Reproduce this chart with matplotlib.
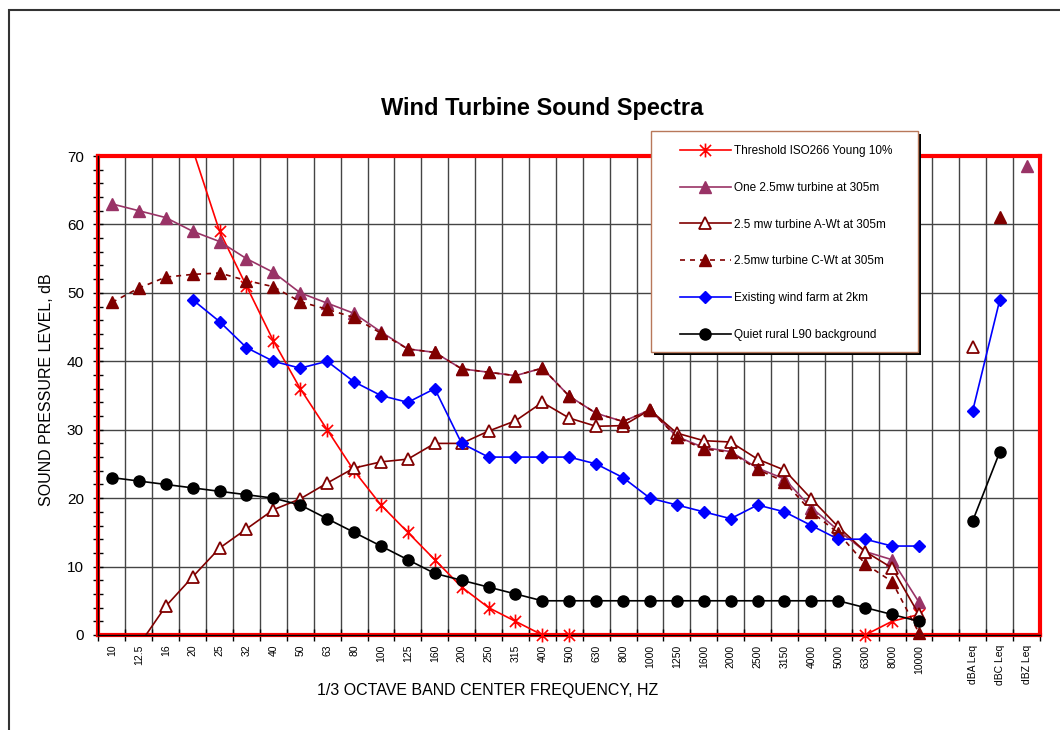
import matplotlib
matplotlib.use('agg')
import numpy as np
import matplotlib.pyplot as plt
from matplotlib.lines import Line2D
from matplotlib.patches import Rectangle
from matplotlib.path import Path

plt.rcParams['font.family'] = ['Liberation Sans', 'DejaVu Sans']

# category labels: 1/3 octave bands, one blank slot, then overall levels
freq_labels = ['10', '12.5', '16', '20', '25', '32', '40', '50', '63', '80', '100', '125',
               '160', '200', '250', '315', '400', '500', '630', '800', '1000', '1250',
               '1600', '2000', '2500', '3150', '4000', '5000', '6300', '8000', '10000']
leq_labels = ['dBA Leq', 'dBC Leq', 'dBZ Leq']

nan = np.nan
# spectra, one value per band (nan = no point)
threshold = [nan, nan, nan, 71, 59, 51, 43, 36, 30, 24, 19, 15, 11, 7, 4, 2, 0, 0,
             -3, -4, -4, -4, -5, -5, -5, -4, -3, -2, 0, 2, 3]
one_turbine = [63, 62, 61, 59, 57.5, 55, 53, 50, 48.5, 47, 44.3, 41.8, 41.3, 38.9, 38.4, 37.9,
               39, 34.9, 32.4, 31.2, 32.9, 29, 27.4, 26.8, 24.4, 22.8, 18.6, 15.3, 12.2, 11, 4.8]
a_wt = [-8, -1.5, 4.2, 8.5, 12.7, 15.5, 18.3, 19.9, 22.2, 24.4, 25.3, 25.7, 28, 28, 29.8,
        31.3, 34, 31.7, 30.5, 30.6, 32.9, 29.5, 28.4, 28.2, 25.7, 24.1, 19.9, 15.8, 12.2, 9.8, 3]
c_wt = [48.6, 50.7, 52.3, 52.7, 52.9, 51.8, 50.9, 48.7, 47.6, 46.4, 44.1, 41.8, 41.3, 38.9, 38.4,
        37.9, 39, 34.9, 32.4, 31.2, 32.9, 28.9, 27.2, 26.7, 24.2, 22.4, 18, 14.9, 10.4, 7.8, 0.3]
wind_farm = [nan, nan, nan, 49, 45.8, 42, 40, 39, 40, 37, 35, 34, 36, 28, 26, 26, 26, 26,
             25, 23, 20, 19, 18, 17, 19, 18, 16, 14, 14, 13, 13]
rural_l90 = [23, 22.5, 22, 21.5, 21, 20.5, 20, 19, 17, 15, 13, 11, 9, 8, 7, 6, 5, 5,
             5, 5, 5, 5, 5, 5, 5, 5, 5, 5, 4, 3, 2]

# overall levels: dBA, dBC, dBZ
threshold_leq = [nan, nan, nan]
one_turbine_leq = [nan, nan, 68.5]
a_wt_leq = [42.1, nan, nan]
c_wt_leq = [nan, 61.1, nan]
wind_farm_leq = [32.8, 48.9, nan]
rural_l90_leq = [16.7, 26.7, nan]

labels = ['Threshold ISO266 Young 10%', 'One 2.5mw turbine at 305m',
          '2.5 mw turbine A-Wt at 305m', '2.5mw turbine C-Wt at 305m',
          'Existing wind farm at 2km', 'Quiet rural L90 background']

cats = freq_labels + [''] + leq_labels
x = np.arange(len(cats))

def full(spec, leq):
    return np.array(spec + [nan] + leq, dtype=float)

# excel style star: an X with a vertical bar through it
star = Path([(-1, -1), (1, 1), (-1, 1), (1, -1), (0, -1.25), (0, 1.25)],
            [Path.MOVETO, Path.LINETO, Path.MOVETO, Path.LINETO, Path.MOVETO, Path.LINETO])

series = [
    (full(threshold, threshold_leq), dict(color='#ff0000', marker=star, ms=10, mew=1.2, mfc='#ff0000', ls='-')),
    (full(one_turbine, one_turbine_leq), dict(color='#993366', marker='^', ms=8.5, mew=1, mfc='#993366', ls='-')),
    (full(a_wt, a_wt_leq), dict(color='#800000', marker='^', ms=8.5, mew=1.3, mfc='white', ls='-')),
    (full(c_wt, c_wt_leq), dict(color='#800000', marker='^', ms=8.5, mew=1, mfc='#800000', ls=(0, (3, 3)))),
    (full(wind_farm, wind_farm_leq), dict(color='#0000ff', marker='D', ms=6.5, mew=1, mfc='#0000ff', ls='-')),
    (full(rural_l90, rural_l90_leq), dict(color='black', marker='o', ms=8, mew=1, mfc='black', ls='-')),
]

fig = plt.figure(figsize=(10.6, 7.3), dpi=100)
ax = fig.add_axes([98.5 / 1060, 1 - 635 / 730, 941.5 / 1060, 479 / 730])

ymin, ymax = 0, 70
handles = []
for i, (vals, st) in enumerate(series):
    z = 3 + i * 0.1
    ax.plot(x, vals, color=st['color'], ls=st['ls'], lw=1.2, zorder=z)
    m = np.where((vals >= ymin - 0.5) & (vals <= ymax), vals, nan)
    ax.plot(x, m, ls='none', marker=st['marker'], ms=st['ms'], mew=st['mew'],
            mfc=st['mfc'], mec=st['color'], clip_on=False, zorder=z + 0.05)
    handles.append(Line2D([], [], color=st['color'], ls=st['ls'], lw=1.2, marker=st['marker'],
                          ms=st['ms'], mew=st['mew'], mfc=st['mfc'], mec=st['color']))

ax.set_xlim(-0.5, len(cats) - 0.5)
ax.set_ylim(ymin, ymax)

# gridlines at category boundaries and every 10 dB
for b in np.arange(0.5, len(cats) - 0.5):
    ax.axvline(b, color='#444444', lw=1, zorder=1)
for yv in range(10, 70, 10):
    ax.axhline(yv, color='#444444', lw=1, zorder=1)

for s in ax.spines.values():
    s.set_color('#ff0000')
    s.set_linewidth(3)
ax.axvline(-0.5, color='black', lw=1, zorder=2.6, clip_on=False)
ax.axhline(0, color='black', lw=1, zorder=2.6, clip_on=False)

ax.set_yticks(range(0, 71, 10))
ax.set_yticks(range(0, 71, 2), minor=True)
ax.tick_params(axis='y', which='both', direction='inout', length=7, width=1, labelsize=11, pad=7)

ax.set_xticks(np.arange(-0.5, len(cats)), labels=[''] * (len(cats) + 1))
ax.set_xticks(x, labels=cats, minor=True)
ax.tick_params(axis='x', which='major', direction='inout', length=8, width=1)
ax.tick_params(axis='x', which='minor', length=0, labelsize=7.5, pad=7, labelrotation=90)

fig.text(542 / 1060, 1 - 108 / 730, 'Wind Turbine Sound Spectra', ha='center', va='center',
         fontsize=17, fontweight='bold')
fig.text(47 / 1060, 1 - 390 / 730, 'SOUND PRESSURE LEVEL, dB', rotation=90, ha='center',
         va='center', fontsize=11.5)
fig.text(488 / 1060, 1 - 690 / 730, '1/3 OCTAVE BAND CENTER FREQUENCY, HZ', ha='center',
         va='center', fontsize=11.5)

# legend box with a black drop shadow, drawn by hand
bx0, by0, bx1, by1 = 651, 131, 918, 352
ax.add_patch(Rectangle((bx0 / 1060 + 3 / 1060, 1 - by1 / 730 - 3 / 730), (bx1 - bx0) / 1060,
                       (by1 - by0) / 730, transform=fig.transFigure, facecolor='black',
                       edgecolor='none', clip_on=False, zorder=8))
ax.add_patch(Rectangle((bx0 / 1060, 1 - by1 / 730), (bx1 - bx0) / 1060, (by1 - by0) / 730,
                       transform=fig.transFigure, facecolor='white', edgecolor='#b8785a',
                       lw=1, clip_on=False, zorder=9))
leg = ax.legend(handles, labels, loc='upper left',
                bbox_to_anchor=(680 / 1060, 1 - 145 / 730), bbox_transform=fig.transFigure,
                borderaxespad=0, borderpad=0, fontsize=8.5, handlelength=4.3,
                handletextpad=0.3, labelspacing=2.1, frameon=False)
leg.set_zorder(10)

fig.patches.append(Rectangle((9 / 1060, -0.05), 1.1, 1.05 - 9.5 / 730, transform=fig.transFigure,
                             fill=False, edgecolor='#333333', lw=1.5))

fig.savefig('out.png', dpi=100)
